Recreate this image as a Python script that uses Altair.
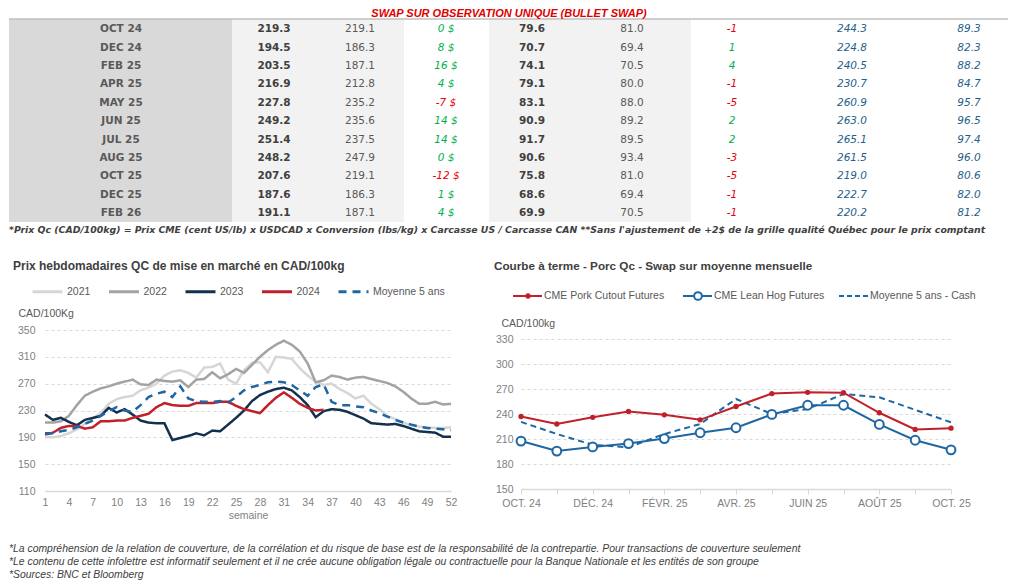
import altair as alt
import pandas as pd

# ---------------- table data ----------------
tbl_months = ["OCT 24", "DEC 24", "FEB 25", "APR 25", "MAY 25", "JUN 25",
              "JUL 25", "AUG 25", "OCT 25", "DEC 25", "FEB 26"]
qc_cutout = [219.3, 194.5, 203.5, 216.9, 227.8, 249.2, 251.4, 248.2, 207.6, 187.6, 191.1]
qc_leanhog = [219.1, 186.3, 187.1, 212.8, 235.2, 235.6, 237.5, 247.9, 219.1, 186.3, 187.1]
qc_spread = [0, 8, 16, 4, -7, 14, 14, 0, -12, 1, 4]
us_cutout = [79.6, 70.7, 74.1, 79.1, 83.1, 90.9, 91.7, 90.6, 75.8, 68.6, 69.9]
us_leanhog = [81.0, 69.4, 70.5, 80.0, 88.0, 89.2, 89.5, 93.4, 81.0, 69.4, 70.5]
us_spread = [-1, 1, 4, -1, -5, 2, 2, -3, -5, -1, -1]
swap_qc = [244.3, 224.8, 240.5, 230.7, 260.9, 263.0, 265.1, 261.5, 219.0, 222.7, 220.2]
swap_us = [89.3, 82.3, 88.2, 84.7, 95.7, 96.5, 97.4, 96.0, 80.6, 82.0, 81.2]

# ---------------- weekly prices ----------------
y2021 = [190, 190, 192, 196, 202, 210, 218, 226, 240, 247, 250, 252, 260, 264, 270, 282,
         288, 290, 286, 279, 294, 295, 300, 276, 270, 290, 301, 302, 287, 310, 309, 307,
         293, 282, 273, 268, 270, 262, 256, 248, 252, 240, 232, 222, 217, 212, 208, 206,
         205, 204, 204, 205]
y2022 = [212, 212, 214, 222, 238, 252, 258, 263, 266, 270, 273, 276, 269, 268, 276, 274,
         273, 275, 265, 276, 277, 287, 278, 284, 292, 286, 298, 310, 320, 328, 334, 328,
         318, 300, 272, 275, 282, 280, 276, 279, 280, 277, 274, 271, 266, 258, 248, 240,
         240, 243, 239, 240]
y2023 = [224, 216, 219, 213, 208, 216, 219, 222, 234, 227, 232, 224, 215, 212, 211, 211,
         186, 189, 192, 196, 193, 200, 199, 209, 219, 230, 244, 253, 258, 262, 264, 260,
         250, 238, 220, 229, 232, 231, 228, 223, 218, 211, 210, 209, 210, 207, 203, 199,
         198, 197, 191, 191]
y2024 = [194, 197, 204, 207, 207, 203, 205, 214, 214, 215, 215, 219, 222, 225, 235, 241,
         238, 237, 237, 241, 241, 241, 243, 243, 237, 232, 229, 226, 238, 249, 257, 249,
         240, 234, 230, 231]
avg5 = [196, 196, 199, 201, 205, 210, 215, 222, 229, 235, 230, 228, 238, 250, 255, 258,
        250, 266, 248, 244, 243, 243, 244, 242, 250, 260, 265, 268, 272, 273, 272, 268,
        260, 252, 265, 269, 243, 238, 238, 236, 235, 230, 226, 221, 216, 212, 209, 206,
        204, 203, 202, 201]
series_names = ["2021", "2022", "2023", "2024", "Moyenne 5 ans"]
series_colors = ["#d6d6d6", "#a3a3a3", "#13304f", "#c0202a", "#1f67a3"]

# ---------------- forward curve ----------------
fwd_months = ["OCT. 24", "NOV. 24", "DÉC. 24", "JANV. 25", "FÉVR. 25", "MARS 25", "AVR. 25",
              "MAI 25", "JUIN 25", "JUIL. 25", "AOÛT 25", "SEPT. 25", "OCT. 25"]
cutout_fut = [237, 228, 236, 243, 239, 233, 249, 264.5, 266, 265.5, 241.5, 221.5, 223]
leanhog_fut = [207.5, 195.5, 200.5, 204.5, 210.5, 217.5, 223.5, 239.5, 250.5, 250.5, 227.5, 208.5, 197]
cash_avg5 = [230.5, 216, 203, 200, 216, 228, 258, 240, 246, 264, 260, 245, 230]

# ---------------- style ----------------
TF = "DejaVu Sans"
AF = "Liberation Sans"
RED = "#c0202a"
BLUE = "#1f67a3"
GRID = "#d9d9d9"
W1, W2 = 406, 430
H_TABLE, H_LEFT, H_RIGHT, H_FOOT = 282, 161, 159, 46

one = pd.DataFrame({"k": [0]})

# ================= TABLE =================
tdf = pd.DataFrame({
    "row": tbl_months, "c2": qc_cutout, "c3": qc_leanhog, "c4": qc_spread,
    "c5": us_cutout, "c6": us_leanhog, "c7": us_spread, "c8": swap_qc, "c9": swap_us,
})
tdf["c4s"] = [f"{v} $" for v in qc_spread]
tdf["c7s"] = [str(v) for v in us_spread]

ROWY = alt.Y("row:N", scale=alt.Scale(type="point", domain=tbl_months, range=[21.3, 205], padding=0),
             axis=None)


def bg(x0, x1, color):
    return alt.Chart(one).mark_rect(color=color).encode(
        x=alt.value(x0), x2=alt.value(x1), y=alt.value(11), y2=alt.value(214))


def tcol(text, xpos, weight="normal", style="normal", color="#595959", cond=None):
    enc = dict(x=alt.value(xpos), y=ROWY, text=text)
    if cond is not None:
        enc["color"] = alt.when(alt.datum[cond] < 0).then(alt.value("#e8000b")).otherwise(alt.value("#00b050"))
    return alt.Chart(tdf).mark_text(font=TF, fontSize=10.5, fontWeight=weight, fontStyle=style,
                                    color=color, align="center", baseline="middle").encode(**enc)


table_layers = [
    bg(-36, 187, "#d9d9d9"),
    bg(187, 359, "#f2f2f2"),
    bg(444, 646, "#f2f2f2"),
    alt.Chart(one).mark_rule(color="#bfbfbf", strokeWidth=1.5).encode(
        x=alt.value(-36), x2=alt.value(963), y=alt.value(11)),
    alt.Chart(one).mark_text(text="SWAP SUR OBSERVATION UNIQUE (BULLET SWAP)", font=AF, fontSize=11,
                             fontWeight="bold", fontStyle="italic", color="#e00000",
                             align="center", baseline="middle").encode(x=alt.value(464), y=alt.value(6)),
    tcol(alt.Text("row:N"), 76, weight="bold", color="#595959"),
    tcol(alt.Text("c2:Q", format=".1f"), 229, weight="bold", color="#404040"),
    tcol(alt.Text("c3:Q", format=".1f"), 315, color="#595959"),
    tcol(alt.Text("c4s:N"), 401, style="italic", cond="c4"),
    tcol(alt.Text("c5:Q", format=".1f"), 487, weight="bold", color="#404040"),
    tcol(alt.Text("c6:Q", format=".1f"), 587, color="#595959"),
    tcol(alt.Text("c7s:N"), 687, style="italic", cond="c7"),
    tcol(alt.Text("c8:Q", format=".1f"), 807, style="italic", color="#1f5f8b"),
    tcol(alt.Text("c9:Q", format=".1f"), 924, style="italic", color="#1f5f8b"),
    alt.Chart(one).mark_text(
        text="*Prix Qc (CAD/100kg) = Prix CME (cent US/lb) x USDCAD x Conversion (lbs/kg) x Carcasse US / "
             "Carcasse CAN **Sans l'ajustement de +2$ de la grille qualité Québec pour le prix comptant",
        font=TF, fontSize=9.35, fontWeight="bold", fontStyle="italic", color="#404040",
        align="left", baseline="middle").encode(x=alt.value(-36), y=alt.value(222)),
]
table = alt.layer(*table_layers).properties(width=W1, height=H_TABLE)

# ================= LEFT CHART =================
rows = []
for name, vals in zip(series_names, [y2021, y2022, y2023, y2024, avg5]):
    for i, v in enumerate(vals):
        rows.append({"series": name, "week": i + 1, "value": v})
ldf = pd.DataFrame(rows)

leg = alt.Legend(orient="none", legendX=-14, legendY=-55, direction="horizontal", title=None,
                 symbolType="stroke", symbolSize=900, symbolStrokeWidth=3, labelFont=AF,
                 labelFontSize=10.5, labelColor="#595959", columnPadding=11.5, labelOffset=3)
lx_axis = alt.Axis(values=list(range(1, 53, 3)), title="semaine", domainColor=GRID, domainWidth=1.5,
                   ticks=False, grid=False, labelFont=AF, labelFontSize=10.5, labelColor="#7f7f7f",
                   labelPadding=6, labelFlush=False, titleFont=AF, titleFontSize=10.5,
                   titleFontWeight="normal", titleColor="#7f7f7f", titlePadding=3)
ly_axis = alt.Axis(values=list(range(110, 351, 40)), title="CAD/100Kg", titleAngle=0, titleAlign="left",
                   titleBaseline="middle", titleX=-27, titleY=-17, titleFont=AF, titleFontSize=10.5,
                   titleFontWeight="normal", titleColor="#595959", grid=True, gridColor=GRID,
                   gridDash=[3, 3], domain=False, ticks=False, labelFont=AF, labelFontSize=10.5,
                   labelColor="#7f7f7f", labelPadding=10)
lbase = alt.Chart(ldf).encode(
    x=alt.X("week:Q", scale=alt.Scale(domain=[1, 52], nice=False, zero=False), axis=lx_axis),
    y=alt.Y("value:Q", scale=alt.Scale(domain=[110, 350], nice=False, zero=False), axis=ly_axis),
    color=alt.Color("series:N", scale=alt.Scale(domain=series_names, range=series_colors), legend=leg),
    strokeDash=alt.StrokeDash("series:N", scale=alt.Scale(domain=series_names,
                              range=[[1, 0], [1, 0], [1, 0], [1, 0], [8, 6]]), legend=leg),
)
left_layers = [lbase.transform_filter(alt.datum.series == s).mark_line(strokeWidth=2.5)
               for s in series_names]
left_layers.append(alt.Chart(one).mark_text(
    text="Prix hebdomadaires QC de mise en marché en CAD/100kg", font=AF, fontSize=12,
    fontWeight="bold", color="#404040", align="left", baseline="middle").encode(
    x=alt.value(-32), y=alt.value(-64)))
left = alt.layer(*left_layers).properties(width=W1, height=H_LEFT)

# ================= RIGHT CHART =================
rdf = pd.DataFrame({"month": fwd_months, "cutout": cutout_fut, "leanhog": leanhog_fut, "cash": cash_avg5})
shown = ",".join("'" + m + "'" for m in fwd_months[::2])
rx_axis = alt.Axis(title=None, labelExpr=f"indexof([{shown}], datum.value) >= 0 ? datum.label : ''",
                   labelAngle=0, labelOverlap=False, labelFlush=False, domainColor=GRID, domainWidth=1.5,
                   ticks=True, tickColor=GRID, tickSize=5, labelPadding=4, grid=False, labelFont=AF,
                   labelFontSize=10.5, labelColor="#7f7f7f")
ry_axis = alt.Axis(values=list(range(150, 331, 30)), title="CAD/100kg", titleAngle=0, titleAlign="left",
                   titleBaseline="middle", titleX=-20, titleY=-7, titleFont=AF, titleFontSize=10.5,
                   titleFontWeight="normal", titleColor="#595959", grid=True, gridColor=GRID,
                   gridDash=[3, 3], domain=False, ticks=False, labelFont=AF, labelFontSize=10.5,
                   labelColor="#7f7f7f", labelPadding=8)
RX = alt.X("month:N", scale=alt.Scale(type="point", domain=fwd_months, padding=0), axis=rx_axis)
RSC = alt.Scale(domain=[150, 340.8], nice=False, zero=False)
rbase = alt.Chart(rdf)
right_layers = [
    rbase.mark_line(color=BLUE, strokeWidth=2, strokeDash=[6, 4]).encode(
        x=RX, y=alt.Y("cash:Q", scale=RSC, axis=ry_axis)),
    rbase.mark_line(color=RED, strokeWidth=2).encode(x=RX, y=alt.Y("cutout:Q", scale=RSC, axis=ry_axis)),
    rbase.mark_point(filled=True, color=RED, size=28, opacity=1).encode(
        x=RX, y=alt.Y("cutout:Q", scale=RSC, axis=ry_axis)),
    rbase.mark_line(color=BLUE, strokeWidth=2).encode(x=RX, y=alt.Y("leanhog:Q", scale=RSC, axis=ry_axis)),
    rbase.mark_point(filled=True, fill="white", stroke=BLUE, strokeWidth=2, size=78, opacity=1).encode(
        x=RX, y=alt.Y("leanhog:Q", scale=RSC, axis=ry_axis)),
    alt.Chart(one).mark_text(text="Courbe à terme - Porc Qc - Swap sur moyenne mensuelle", font=AF,
                             fontSize=11.7, fontWeight="bold", color="#404040", align="left",
                             baseline="middle").encode(x=alt.value(-27), y=alt.value(-64)),
]
# legend entries (layout)
LY = -34
legend_items = [
    ("CME Pork Cutout Futures", -8, RED, "dot"),
    ("CME Lean Hog Futures", 162, BLUE, "circle"),
    ("Moyenne 5 ans - Cash", 318, BLUE, "dash"),
]
for label, x0, col, kind in legend_items:
    dash = [5, 3] if kind == "dash" else [1, 0]
    right_layers.append(alt.Chart(one).mark_rule(color=col, strokeWidth=2, strokeDash=dash).encode(
        x=alt.value(x0), x2=alt.value(x0 + 29), y=alt.value(LY)))
    if kind == "dot":
        right_layers.append(alt.Chart(one).mark_point(filled=True, color=col, size=28, opacity=1).encode(
            x=alt.value(x0 + 15), y=alt.value(LY)))
    if kind == "circle":
        right_layers.append(alt.Chart(one).mark_point(filled=True, fill="white", stroke=col, strokeWidth=2,
                                                      size=60, opacity=1).encode(
            x=alt.value(x0 + 15), y=alt.value(LY)))
    right_layers.append(alt.Chart(one).mark_text(text=label, font=AF, fontSize=10.5, color="#595959",
                                                 align="left", baseline="middle").encode(
        x=alt.value(x0 + 31), y=alt.value(LY)))
right = alt.layer(*right_layers).properties(width=W2, height=H_RIGHT)

# ================= FOOTER =================
footer_lines = [
    "*La compréhension de la relation de couverture, de la corrélation et du risque de base est de la "
    "responsabilité de la contrepartie. Pour transactions de couverture seulement",
    "*Le contenu de cette infolettre est informatif seulement et il ne crée aucune obligation légale ou "
    "contractuelle pour la Banque Nationale et les entités de son groupe",
    "*Sources: BNC et Bloomberg",
]
footer = alt.layer(*[
    alt.Chart(one).mark_text(text=t, font=AF, fontSize=10.4, fontStyle="italic", color="#404040",
                             align="left", baseline="middle").encode(x=alt.value(-36), y=alt.value(18 + 13 * i))
    for i, t in enumerate(footer_lines)
]).properties(width=W1, height=H_FOOT)


def spacer(h):
    return alt.Chart(one).mark_rect(opacity=0).encode(
        x=alt.value(10), x2=alt.value(20), y=alt.value(30), y2=alt.value(40)).properties(width=W2, height=h)


chart = alt.concat(
    table, spacer(H_TABLE), left, right, footer, spacer(H_FOOT),
    columns=2, spacing={"row": 40, "column": 70}, bounds="flush",
).resolve_scale(color="independent", strokeDash="independent").resolve_legend(
    color="independent", strokeDash="independent"
).properties(padding={"left": 0, "top": 0, "right": 0, "bottom": 0}, background="white"
             ).configure_view(strokeWidth=0)

chart.save("out.html", embed_options={"renderer": "svg", "actions": False})
